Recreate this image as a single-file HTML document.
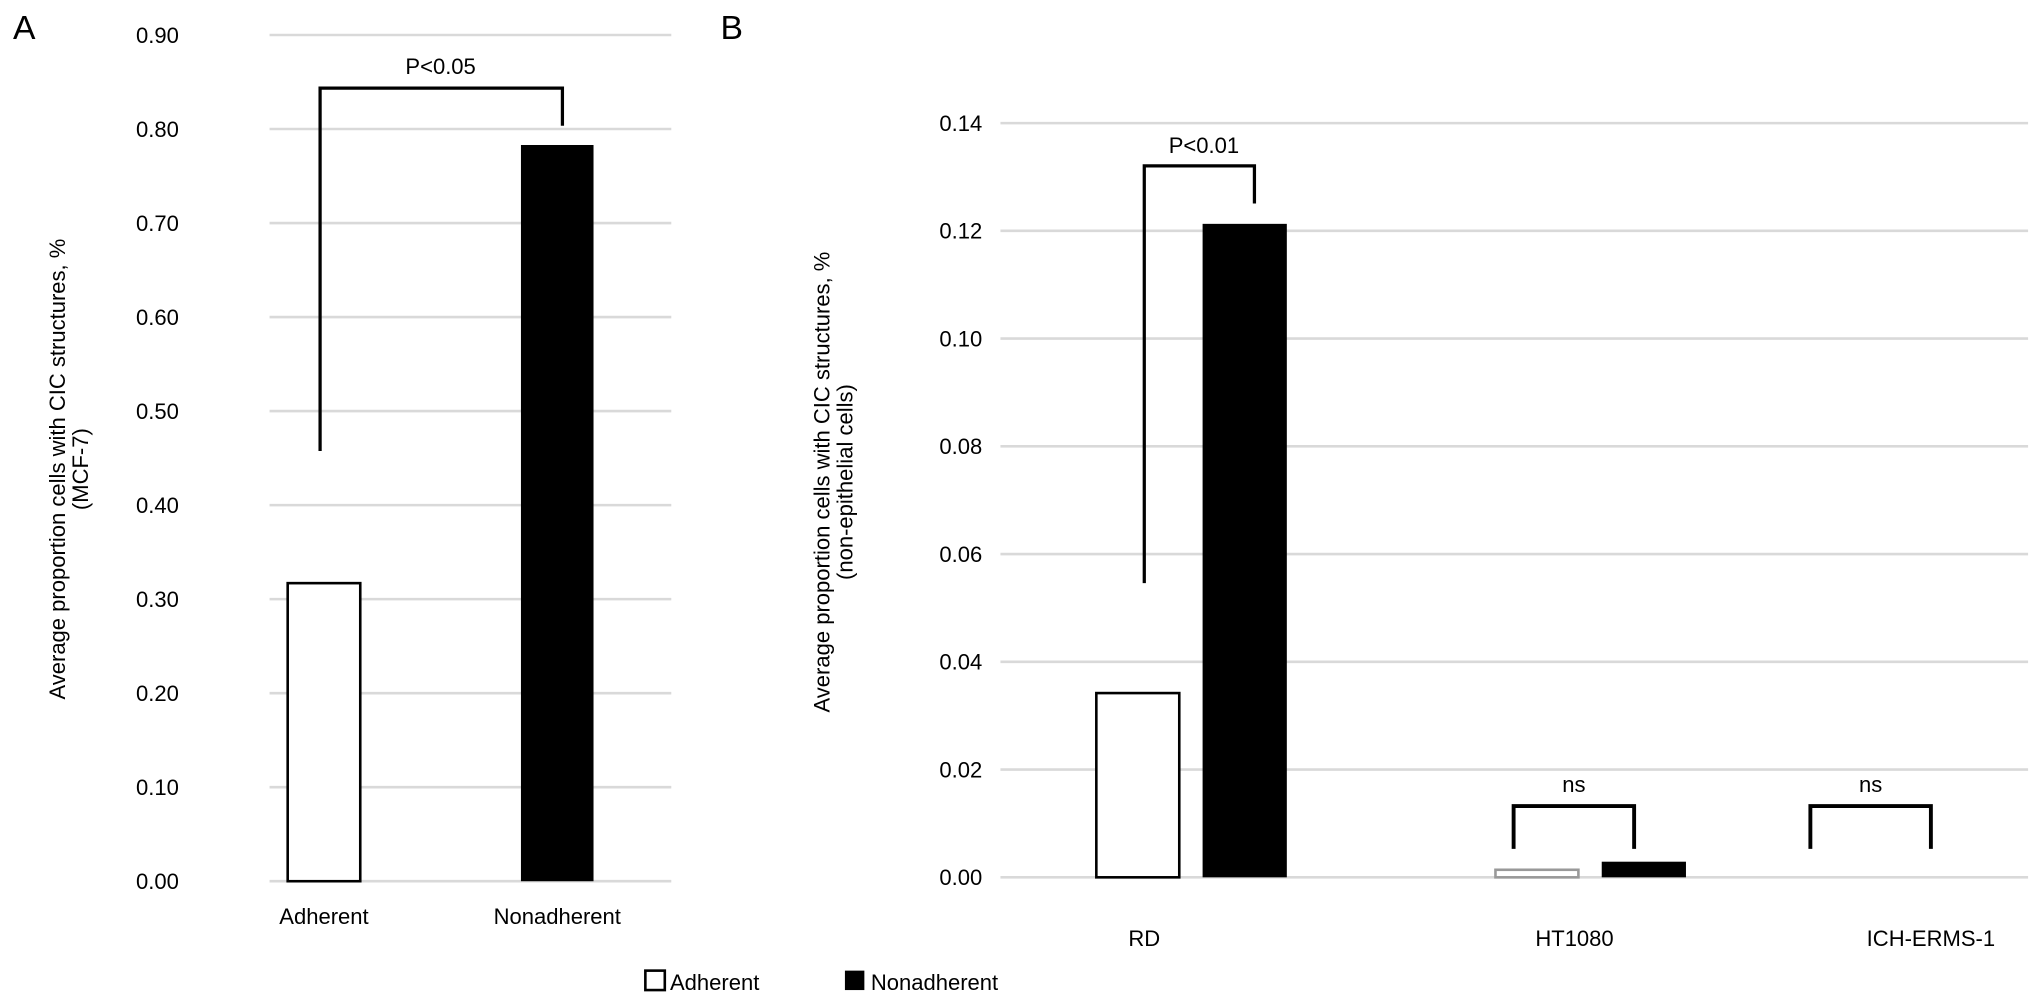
<!DOCTYPE html>
<html><head><meta charset="utf-8"><style>
body{margin:0;background:#fff}
svg{display:block;font-family:"Liberation Sans",Arial,sans-serif}
</style></head><body>
<svg id="fig" width="2032" height="1006" viewBox="0 0 2032 1006" xmlns="http://www.w3.org/2000/svg">
<g transform="scale(1.2959)">
<text x="10" y="30" font-size="26">A</text>
<text x="556" y="30" font-size="26">B</text>
<g id="pa"></g>
<g id="pb"></g>
<g>
<rect x="498" y="749" width="15" height="15" fill="#fff" stroke="#000" stroke-width="2"/>
<text x="517" y="764" font-size="17">Adherent</text>
<rect x="652" y="749" width="15" height="15" fill="#000"/>
<text x="672" y="764" font-size="17">Nonadherent</text>
</g>
</g>
</svg>
<script>
const aCategories=["Adherent","Nonadherent"];
const aValues=[0.317,0.783];
const aTicks=["0.00","0.10","0.20","0.30","0.40","0.50","0.60","0.70","0.80","0.90"];
const bCategories=["RD","HT1080","ICH-ERMS-1"];
const bAdherent=[0.0342,0.0014,0];
const bNonadherent=[0.1213,0.0029,0];
const bTicks=["0.00","0.02","0.04","0.06","0.08","0.10","0.12","0.14"];
const NS="http://www.w3.org/2000/svg";
function mk(p,t,a){const e=document.createElementNS(NS,t);for(const k in a)e.setAttribute(k,a[k]);p.appendChild(e);return e;}
// Panel A
const pa=document.getElementById('pa');
const ya=v=>680-v/0.9*653;
aTicks.forEach((t,i)=>{const v=parseFloat(t);
 const g=mk(pa,'line',{x1:208,x2:518,y1:ya(v),y2:ya(v),stroke:'#d9d9d9','stroke-width':2});
 
 const tx=mk(pa,'text',{x:138,y:ya(v)+6,'font-size':17,'text-anchor':'end'});tx.textContent=t;
 });
const aX=[250,430];
aValues.forEach((v,i)=>{const r=mk(pa,'rect',{x:aX[i]-28,y:ya(v),width:56,height:680-ya(v),fill:i?'#000':'#fff',stroke:'#000','stroke-width':i?0:2});
 
 const tx=mk(pa,'text',{x:aX[i],y:713,'font-size':17,'text-anchor':'middle'});tx.textContent=aCategories[i];
 });
let br=mk(pa,'polyline',{points:`247,348 247,68 434,68 434,97`,fill:'none',stroke:'#000','stroke-width':2.5});

let pt=mk(pa,'text',{x:340,y:57,'font-size':17,'text-anchor':'middle'});pt.textContent='P<0.05';

let yt=mk(pa,'text',{transform:'translate(50,362) rotate(-90)','font-size':17,'text-anchor':'middle'});yt.textContent='Average proportion cells with CIC structures, %';

let yt2=mk(pa,'text',{transform:'translate(68,362) rotate(-90)','font-size':17,'text-anchor':'middle'});yt2.textContent='(MCF-7)';

// Panel B
const pb=document.getElementById('pb');
const yb=v=>677-v/0.14*582;
bTicks.forEach(t=>{const v=parseFloat(t);
 const g=mk(pb,'line',{x1:772,x2:1565,y1:yb(v),y2:yb(v),stroke:'#d9d9d9','stroke-width':2});
 
 const tx=mk(pb,'text',{x:758,y:yb(v)+6,'font-size':17,'text-anchor':'end'});tx.textContent=t;
 });
const bX=[919,1227,1444];
bCategories.forEach((c,i)=>{
 const a=bAdherent[i],n=bNonadherent[i];
 const r1=mk(pb,'rect',{x:bX[i]-73,y:yb(a),width:64,height:677-yb(a),fill:'#fff',stroke:i?'#999':'#000','stroke-width':2});
 
 const r2=mk(pb,'rect',{x:bX[i]+9,y:yb(n),width:65,height:677-yb(n),fill:'#000'});
 
 const tx=mk(pb,'text',{x:[883,1215,1490][i],y:730,'font-size':17,'text-anchor':'middle'});tx.textContent=c;
 });
br=mk(pb,'polyline',{points:`883,450 883,128 968,128 968,157`,fill:'none',stroke:'#000','stroke-width':2.5});

pt=mk(pb,'text',{x:929,y:118,'font-size':17,'text-anchor':'middle'});pt.textContent='P<0.01';

[[1168,1261],[1397,1490]].forEach(([x1,x2])=>{
 const b=mk(pb,'polyline',{points:`${x1},655 ${x1},622 ${x2},622 ${x2},655`,fill:'none',stroke:'#000','stroke-width':3});
 
 const t=mk(pb,'text',{x:(x1+x2)/2,y:611,'font-size':17,'text-anchor':'middle'});t.textContent='ns';
 });
yt=mk(pb,'text',{transform:'translate(640,372) rotate(-90)','font-size':17,'text-anchor':'middle'});yt.textContent='Average proportion cells with CIC structures, %';

yt2=mk(pb,'text',{transform:'translate(658,372) rotate(-90)','font-size':17,'text-anchor':'middle'});yt2.textContent='(non-epithelial cells)';

</script>
</body></html>
